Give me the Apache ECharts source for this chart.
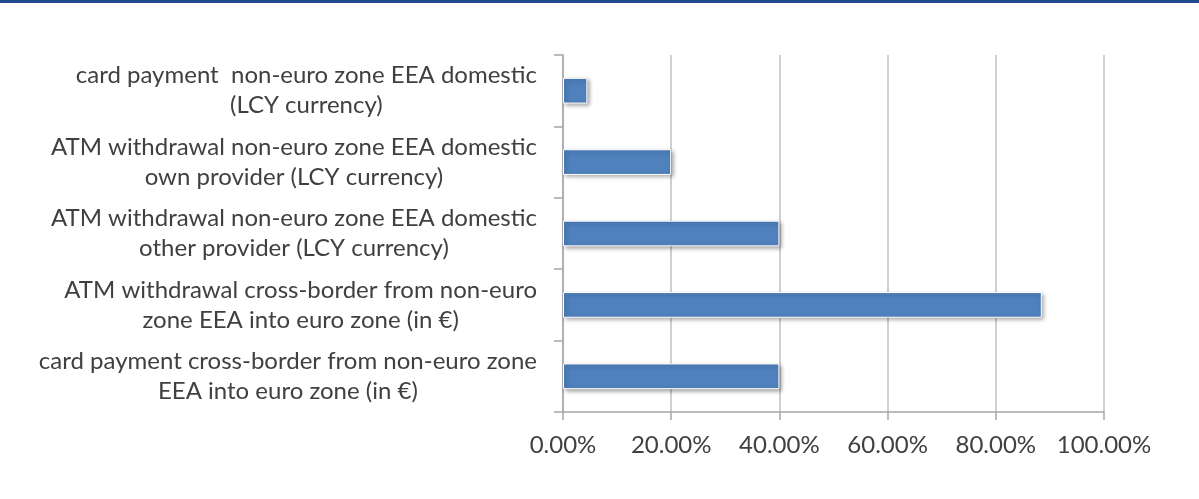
<!DOCTYPE html>
<html>
<head>
<meta charset="utf-8">
<script src="https://cdn.jsdelivr.net/npm/echarts@6/dist/echarts.min.js"></script>
<style>
  html, body { margin: 0; padding: 0; background: #fff; }
  #band { position: absolute; left: 0; top: 0; width: 1199px; height: 3px; background: #22498f; }
  #chart { position: absolute; left: 0; top: 0; width: 1199px; height: 499px; }
</style>
</head>
<body>
<div id="chart"></div>
<div id="band"></div>
<script>
// Payment/withdrawal categories (top to bottom)
const categories = [
  'card payment  non-euro zone EEA domestic\n(LCY currency)',
  'ATM withdrawal non-euro zone EEA domestic\nown provider (LCY currency)',
  'ATM withdrawal non-euro zone EEA domestic\nother provider (LCY currency)',
  'ATM withdrawal cross-border from non-euro\nzone EEA into euro zone (in \u20ac)',
  'card payment cross-border from non-euro zone\nEEA into euro zone (in \u20ac)'
];
// Share per category, in percent
const shares = [4.5, 20, 40, 88.5, 40];
// Axis ticks
const axisMin = 0, axisMax = 100, axisStep = 20;

const textColor = '#404040';
const fontFamily = 'Lato, "Open Sans", sans-serif';

const chart = echarts.init(document.getElementById('chart'), null, { renderer: 'canvas' });
chart.setOption({
  animation: false,
  grid: { left: 563, right: 95, top: 55, bottom: 87, containLabel: false },
  xAxis: {
    type: 'value',
    min: axisMin, max: axisMax, interval: axisStep,
    axisLine: { show: true, lineStyle: { color: '#a6a6a6', width: 1.5 } },
    axisTick: { show: true, length: 8, lineStyle: { color: '#a6a6a6', width: 1.5 } },
    splitLine: { show: true, lineStyle: { color: '#d0d0d0', width: 2 } },
    axisLabel: {
      margin: 21, color: textColor, fontSize: 24, fontFamily: fontFamily,
      formatter: v => v.toFixed(2) + '%'
    }
  },
  yAxis: {
    type: 'category',
    inverse: true,
    data: categories,
    axisLine: { show: true, lineStyle: { color: '#a6a6a6', width: 1.5 } },
    axisTick: { show: true, length: 9, lineStyle: { color: '#a6a6a6', width: 1.5 } },
    axisLabel: {
      margin: 26, align: 'right',
      // each line is centred within the label block
      formatter: v => v.split('\n').map(s => '{c|' + s + '}').join('\n'),
      rich: {
        c: {
          align: 'center', color: textColor, fontSize: 24, lineHeight: 30,
          fontFamily: fontFamily
        }
      }
    }
  },
  series: [{
    type: 'bar',
    data: shares,
    barWidth: '36%',
    itemStyle: {
      color: '#4f81bd',
      borderColor: '#ffffff',
      borderWidth: 1,
      shadowColor: 'rgba(0,0,0,0.35)',
      shadowBlur: 4,
      shadowOffsetX: 2,
      shadowOffsetY: 2
    }
  }]
});
</script>
</body>
</html>
